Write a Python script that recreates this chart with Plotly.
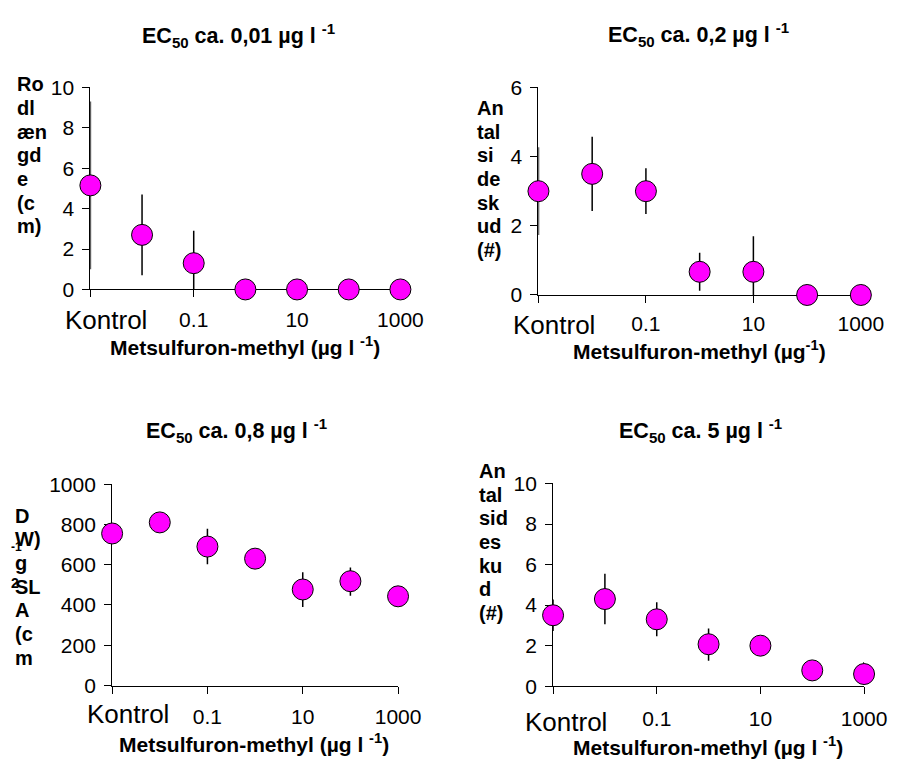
import plotly.graph_objects as go

W, H = 917, 769

# Concentrations (µg/l); the control is plotted at 0.001 on the log axis
conc = [0.001, 0.01, 0.1, 1, 10, 100, 1000]
tick_vals = [0.001, 0.1, 10, 1000]
tick_text = ["", "0.1", "10", "1000"]

# Root length (cm)
root_len = [5.15, 2.7, 1.3, 0, 0, 0, 0]
root_err_up = [4.15, 2.0, 1.6, 0, 0, 0, 0]
root_err_dn = [4.15, 2.0, 1.3, 0, 0, 0, 0]

# Number of side shoots, first experiment
shoots_a = [3.0, 3.5, 3.0, 0.67, 0.67, 0, 0]
shoots_a_up = [1.27, 1.07, 0.66, 0.55, 1.03, 0, 0]
shoots_a_dn = [1.27, 1.07, 0.66, 0.55, 0.67, 0, 0]

# Specific leaf area (cm2 g-1 DW)
sla = [755, 810, 690, 630, 477, 518, 443]
sla_up = [30, 30, 88, 35, 85, 68, 30]
sla_dn = [30, 30, 88, 35, 87, 72, 30]

# Number of side shoots, second experiment
shoots_b = [3.5, 4.3, 3.3, 2.07, 2.0, 0.78, 0.6]
shoots_b_up = [0.78, 1.25, 0.84, 0.78, 0.35, 0.3, 0.6]
shoots_b_dn = [0.78, 1.25, 0.84, 0.82, 0.35, 0.3, 0.4]

titles = [
    "<b>EC<sub>50</sub> ca. 0,01 µg l <sup>-1</sup></b>",
    "<b>EC<sub>50</sub> ca. 0,2 µg l <sup>-1</sup></b>",
    "<b>EC<sub>50</sub> ca. 0,8 µg l <sup>-1</sup></b>",
    "<b>EC<sub>50</sub> ca. 5 µg l <sup>-1</sup></b>",
]
xtitles = [
    "<b>Metsulfuron-methyl (µg l <sup>-1</sup>)</b>",
    "<b>Metsulfuron-methyl (µg<sup>-1</sup>)</b>",
    "<b>Metsulfuron-methyl (µg l <sup>-1</sup>)</b>",
    "<b>Metsulfuron-methyl (µg l <sup>-1</sup>)</b>",
]
# wrapped y-axis labels, one entry per printed line
ylabel_lines = [
    ["Ro", "dl", "æn", "gd", "e", "(c", "m)"],
    ["An", "tal", "si", "de", "sk", "ud", "(#)"],
    ["D", "W)", "g", "SL", "A", "(c", "m"],
    ["An", "tal", "sid", "es", "ku", "d", "(#)"],
]

FONT = "Arial, Liberation Sans, sans-serif"
MAGENTA = "#FF00FF"

# panel geometry in pixels: x of y-axis, x right end, y top, y bottom (value 0)
panels = [
    dict(x0=92.7, x1=410.7, yt=77.7, yb=286.0, ymax=10, dtick=2,
         y=root_len, up=root_err_up, dn=root_err_dn),
    dict(x0=552.3, x1=883.0, yt=77.7, yb=291.7, ymax=6, dtick=2,
         y=shoots_a, up=shoots_a_up, dn=shoots_a_dn),
    dict(x0=115.0, x1=408.3, yt=486.7, yb=694.3, ymax=1000, dtick=200,
         y=sla, up=sla_up, dn=sla_dn),
    dict(x0=567.3, x1=886.3, yt=486.0, yb=695.0, ymax=10, dtick=2,
         y=shoots_b, up=shoots_b_up, dn=shoots_b_dn),
]

title_pos = [(244.7, 24), (716, 23), (243, 431.7), (718.8, 431.7)]
xtitle_pos = [(251.7, 344.5), (718, 348), (260.8, 754), (726, 757)]
kontrol_pos = [(109, 318), (568, 322.7), (131.7, 723.3), (580.5, 731.7)]
ylabel_pos = [(15, 74.5), (487.3, 99), (13.3, 519.3), (489.7, 473.3)]
ylabel_step = 24.4
ticklabel_gap = [4, 3, 5, 7]


def px(x):
    return x / W


def py(y):
    return 1 - y / H


fig = go.Figure()
layout = dict(
    width=W, height=H,
    margin=dict(l=0, r=0, t=0, b=0),
    paper_bgcolor="white", plot_bgcolor="white",
    showlegend=False,
    font=dict(family=FONT, color="black", size=20),
)
annotations = []


def note(text, x, y, size, xanchor="center", yanchor="middle"):
    annotations.append(dict(text=text, x=px(x), y=py(y), xref="paper",
                            yref="paper", showarrow=False, xanchor=xanchor,
                            yanchor=yanchor, align="left",
                            font=dict(size=size, family=FONT, color="black")))


for i, p in enumerate(panels):
    n = i + 1
    xa = "x" if n == 1 else f"x{n}"
    ya = "y" if n == 1 else f"y{n}"
    fig.add_trace(go.Scatter(
        x=conc, y=p["y"], xaxis=xa, yaxis=ya, mode="markers",
        cliponaxis=False,
        marker=dict(size=21, color=MAGENTA, line=dict(color="black", width=1)),
        error_y=dict(type="data", symmetric=False, array=p["up"],
                     arrayminus=p["dn"], color="black", thickness=1.5, width=0),
    ))
    xkey = "xaxis" if n == 1 else f"xaxis{n}"
    ykey = "yaxis" if n == 1 else f"yaxis{n}"
    layout[xkey] = dict(
        domain=[px(p["x0"]), px(p["x1"])], anchor=ya, type="log",
        range=[-3, 3], tickvals=tick_vals, ticktext=tick_text,
        ticks="outside", ticklen=7, tickcolor="black", tickwidth=1,
        showline=True, linecolor="black", linewidth=1,
        showgrid=False, zeroline=False, layer="below traces",
        tickfont=dict(size=21, family=FONT, color="black"),
        ticklabelstandoff=ticklabel_gap[i],
    )
    layout[ykey] = dict(
        domain=[py(p["yb"]), py(p["yt"])], anchor=xa,
        range=[0, p["ymax"]], dtick=p["dtick"], tick0=0,
        ticks="outside", ticklen=7, tickcolor="black", tickwidth=1,
        showline=True, linecolor="black", linewidth=1,
        showgrid=False, zeroline=False, layer="below traces",
        tickfont=dict(size=21, family=FONT, color="black"),
        ticklabelstandoff=4,
    )

    note(titles[i], *title_pos[i], 21.5)
    note(xtitles[i], *xtitle_pos[i], 21)
    note("Kontrol", *kontrol_pos[i], 26)
    lx, ly = ylabel_pos[i]
    for k, line in enumerate(ylabel_lines[i]):
        note(f"<b>{line}</b>", lx, ly + k * ylabel_step, 20, xanchor="left")

# overlapping fragments of the wrapped SLA unit label
note("<b>-1</b>", 9, 552, 12, xanchor="left")
note("<b>2</b>", 9, 589, 14, xanchor="left")

layout["annotations"] = annotations
fig.update_layout(**layout)
fig.write_html("out.html")
